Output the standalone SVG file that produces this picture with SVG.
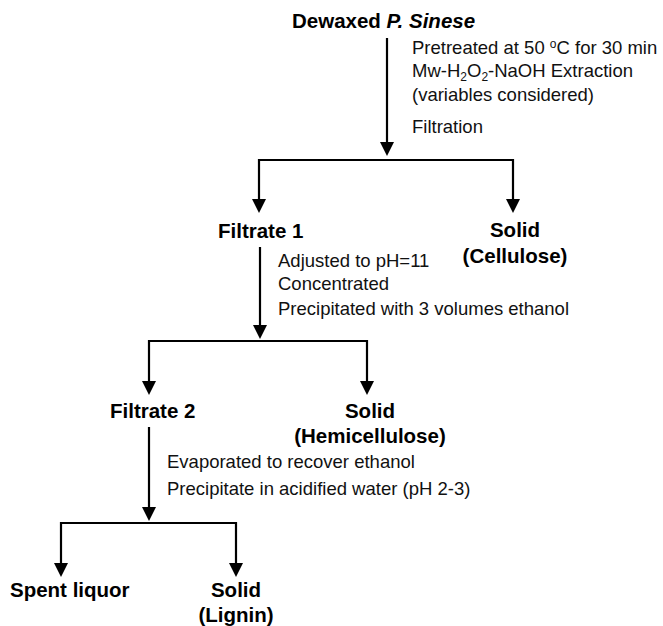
<svg xmlns="http://www.w3.org/2000/svg" width="663" height="626" viewBox="0 0 663 626">
<style>
.b{font-family:"Liberation Sans",Arial,sans-serif;font-weight:bold;font-size:20.5px;fill:#000}
.r{font-family:"Liberation Sans",Arial,sans-serif;font-size:18.5px;fill:#111}
.c{text-anchor:middle}
.ln{stroke:#000;stroke-width:2.2;fill:none}
.s{font-size:12px}
</style>
<defs>
<path id="tri" d="M-7,-14 L7,-14 L0,0 Z" fill="#000"/>
</defs>
<rect width="663" height="626" fill="#fff"/>
<g id="connectors">
<line class="ln" x1="387" y1="38" x2="387" y2="146"/>
<polyline class="ln" points="259,205 259,160 513,160 513,205"/>
<line class="ln" x1="260" y1="247" x2="260" y2="330"/>
<polyline class="ln" points="149,387 149,341 367,341 367,387"/>
<line class="ln" x1="149" y1="427" x2="149" y2="512"/>
<polyline class="ln" points="61,569 61,523 236,523 236,569"/>
<use href="#tri" x="387" y="156"/>
<use href="#tri" x="259" y="213"/>
<use href="#tri" x="513" y="213"/>
<use href="#tri" x="260" y="339"/>
<use href="#tri" x="149" y="395"/>
<use href="#tri" x="367" y="395"/>
<use href="#tri" x="149" y="521"/>
<use href="#tri" x="61" y="577"/>
<use href="#tri" x="236" y="577"/>
</g>
<g id="dewaxed"><text class="b" x="292" y="28">Dewaxed <tspan font-style="italic">P. Sinese</tspan></text></g>
<g id="step1">
<text class="r" x="412" y="54">Pretreated at 50 <tspan class="s" dy="-6">o</tspan><tspan dy="6">C for 30 min</tspan></text>
<text class="r" x="412" y="77">Mw-H<tspan class="s" dy="4">2</tspan><tspan dy="-4">O</tspan><tspan class="s" dy="4">2</tspan><tspan dy="-4">-NaOH Extraction</tspan></text>
<text class="r" x="412" y="101">(variables considered)</text>
<text class="r" x="412" y="133">Filtration</text>
</g>
<g id="filtrate1"><text class="b" x="218" y="238">Filtrate 1</text></g>
<g id="cellulose"><text class="b c" x="515" y="237">Solid</text><text class="b c" x="515" y="263">(Cellulose)</text></g>
<g id="step2">
<text class="r" x="278" y="267">Adjusted to pH=11</text>
<text class="r" x="278" y="290">Concentrated</text>
<text class="r" x="278" y="315">Precipitated with 3 volumes ethanol</text>
</g>
<g id="filtrate2"><text class="b" x="110" y="418">Filtrate 2</text></g>
<g id="hemicellulose"><text class="b c" x="370" y="418">Solid</text><text class="b c" x="370" y="443">(Hemicellulose)</text></g>
<g id="step3">
<text class="r" x="167" y="468">Evaporated to recover ethanol</text>
<text class="r" x="167" y="495">Precipitate in acidified water (pH 2-3)</text>
</g>
<g id="spent"><text class="b" x="10" y="597">Spent liquor</text></g>
<g id="lignin"><text class="b c" x="236" y="597">Solid</text><text class="b c" x="236" y="622">(Lignin)</text></g>
</svg>
